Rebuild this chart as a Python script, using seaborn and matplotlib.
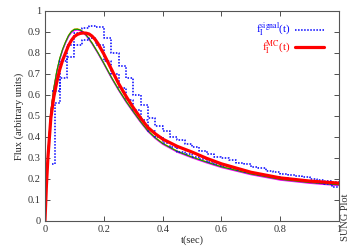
import matplotlib
matplotlib.use("Agg")
import matplotlib.pyplot as plt
import seaborn as sns
import numpy as np
import pandas as pd

# red MC curve
t_mc = [0, 0.005, 0.01, 0.02, 0.03, 0.04, 0.05, 0.06, 0.07, 0.08, 0.09, 0.10, 0.11, 0.12,
        0.13, 0.14, 0.15, 0.16, 0.17, 0.18, 0.20, 0.225, 0.25, 0.275, 0.30, 0.325, 0.35,
        0.375, 0.40, 0.45, 0.50, 0.55, 0.60, 0.70, 0.80, 0.90, 1.00]
f_mc = [0, 0.17, 0.30, 0.49, 0.59, 0.66, 0.72, 0.765, 0.80, 0.835, 0.86, 0.878, 0.888, 0.893,
        0.895, 0.894, 0.89, 0.88, 0.865, 0.845, 0.795, 0.725, 0.655, 0.595, 0.54, 0.49, 0.445,
        0.415, 0.39, 0.355, 0.328, 0.298, 0.272, 0.232, 0.205, 0.19, 0.18]

# bundle of thin model curves
t_model = [0, 0.01, 0.02, 0.03, 0.04, 0.05, 0.06, 0.07, 0.08, 0.09, 0.10, 0.11, 0.12, 0.13,
           0.14, 0.15, 0.16, 0.18, 0.20, 0.225, 0.25, 0.275, 0.30, 0.325, 0.35, 0.375, 0.40,
           0.45, 0.50, 0.55, 0.60, 0.70, 0.80, 0.90, 1.00]
model_a = [0, 0.32, 0.52, 0.63, 0.71, 0.77, 0.815, 0.85, 0.88, 0.90, 0.91, 0.912, 0.908, 0.898,
           0.884, 0.866, 0.846, 0.80, 0.75, 0.685, 0.625, 0.57, 0.52, 0.472, 0.428, 0.395, 0.368,
           0.33, 0.303, 0.279, 0.257, 0.223, 0.197, 0.182, 0.171]
model_b = [0, 0.324, 0.524, 0.634, 0.714, 0.774, 0.819, 0.854, 0.884, 0.904, 0.914, 0.915, 0.911, 0.901,
           0.887, 0.869, 0.849, 0.803, 0.753, 0.688, 0.628, 0.573, 0.523, 0.475, 0.431, 0.398, 0.371,
           0.333, 0.306, 0.282, 0.26, 0.226, 0.2, 0.185, 0.174]
model_c = [0, 0.316, 0.516, 0.626, 0.706, 0.766, 0.811, 0.846, 0.876, 0.896, 0.906, 0.909, 0.905, 0.895,
           0.881, 0.863, 0.843, 0.797, 0.747, 0.682, 0.622, 0.567, 0.517, 0.469, 0.425, 0.392, 0.365,
           0.327, 0.3, 0.276, 0.254, 0.22, 0.194, 0.179, 0.168]
model_d = [0, 0.32, 0.52, 0.63, 0.71, 0.772, 0.817, 0.852, 0.882, 0.902, 0.912, 0.913, 0.909, 0.899,
           0.885, 0.867, 0.847, 0.801, 0.751, 0.686, 0.626, 0.571, 0.521, 0.473, 0.429, 0.396, 0.369,
           0.331, 0.304, 0.28, 0.258, 0.224, 0.198, 0.183, 0.172]
model_colors = ["#8b4513", "#ffa500", "#ff00ff", "#00a000"]

# blue dotted signal (upper and lower staircases)
t_up = [0.025, 0.05, 0.075, 0.1, 0.125, 0.15, 0.175, 0.2, 0.225, 0.25, 0.275, 0.3, 0.325,
        0.35, 0.375, 0.4, 0.425, 0.45, 0.475, 0.5, 0.525, 0.55, 0.575, 0.6, 0.625, 0.65,
        0.675, 0.7, 0.725, 0.75, 0.775, 0.8, 0.825, 0.85, 0.875, 0.9, 0.925, 0.95, 0.975, 1.0]
sig_up = [0.62, 0.76, 0.84, 0.895, 0.92, 0.93, 0.925, 0.87, 0.80, 0.74, 0.68, 0.60, 0.55,
          0.49, 0.45, 0.43, 0.40, 0.385, 0.365, 0.35, 0.335, 0.32, 0.305, 0.30, 0.29, 0.275,
          0.27, 0.255, 0.25, 0.24, 0.235, 0.225, 0.22, 0.215, 0.21, 0.20, 0.195, 0.19, 0.185, 0.185]
t_lo = [0.025, 0.035, 0.05, 0.075, 0.1, 0.125, 0.15, 0.175, 0.2, 0.225, 0.25, 0.275, 0.3, 0.325,
        0.35, 0.375, 0.4, 0.425, 0.45, 0.475, 0.5, 0.525, 0.55, 0.575, 0.6, 0.625, 0.65,
        0.675, 0.7, 0.725, 0.75, 0.775, 0.8, 0.825, 0.85, 0.875, 0.9, 0.925, 0.95, 0.975, 1.0]
sig_lo = [0.27, 0.56, 0.68, 0.78, 0.84, 0.86, 0.87, 0.84, 0.76, 0.70, 0.635, 0.575, 0.53, 0.48,
          0.43, 0.40, 0.37, 0.35, 0.33, 0.32, 0.305, 0.295, 0.28, 0.27, 0.26, 0.25, 0.245,
          0.235, 0.23, 0.22, 0.215, 0.21, 0.205, 0.20, 0.195, 0.19, 0.185, 0.18, 0.175, 0.16, 0.16]

x_ticks = [0, 0.2, 0.4, 0.6, 0.8, 1]
x_labels = ["0", "0.2", "0.4", "0.6", "0.8", "1"]
y_ticks = [0, 0.1, 0.2, 0.3, 0.4, 0.5, 0.6, 0.7, 0.8, 0.9, 1]
y_labels = ["0", "0.1", "0.2", "0.3", "0.4", "0.5", "0.6", "0.7", "0.8", "0.9", "1"]

sns.set_theme(style="ticks")
plt.rcParams["font.family"] = ["Liberation Serif", "DejaVu Serif"]
plt.rcParams["mathtext.fontset"] = "stix"

fig = plt.figure(figsize=(3.54, 2.48), dpi=100)
ax = fig.add_axes([0.127, 0.109, 0.831, 0.847])

for vals, col in zip([model_a, model_b, model_c, model_d], model_colors):
    sns.lineplot(x=t_model, y=vals, ax=ax, color=col, linewidth=0.8, sort=False)

ax.step(t_up, sig_up, where="post", color="#0000ff", linestyle=(0, (1, 1)), linewidth=1.1,
        label=r"f$_{\rm I}^{\rm signal}$(t)")
ax.step(t_lo, sig_lo, where="post", color="#0000ff", linestyle=(0, (1, 1)), linewidth=1.1)
sns.lineplot(x=t_mc, y=f_mc, ax=ax, color="#ff0000", linewidth=2.3, sort=False,
             label=r"f$_{\rm I}^{\rm MC}$(t)")

ax.set_xlim(0, 1)
ax.set_ylim(0, 1)
ax.set_xticks(x_ticks)
ax.set_xticklabels(x_labels)
ax.set_yticks(y_ticks)
ax.set_yticklabels(y_labels)
ax.tick_params(direction="in", top=True, right=True, length=3.5, width=0.6,
               labelsize=7.5, pad=3, colors="#333333")
for s in ax.spines.values():
    s.set_linewidth(0.8)
    s.set_color("#555555")

ax.set_xlabel("t(sec)", fontsize=7.5, labelpad=1)
ax.set_ylabel("Flux (arbitrary units)", fontsize=7.5, labelpad=3)

handles, labels = ax.get_legend_handles_labels()
leg = ax.legend(handles, labels, loc="upper right", bbox_to_anchor=(0.975, 0.99),
                frameon=False, markerfirst=False, labelcolor="linecolor",
                fontsize=8, handlelength=2.6, handletextpad=0.4, labelspacing=0.0,
                borderpad=0.2)

fig.text(0.975, 0.03, "SUNG Plot", rotation=90, ha="center", va="bottom",
         fontsize=7.5, color="#333333")

fig.savefig("out.png", dpi=100)
